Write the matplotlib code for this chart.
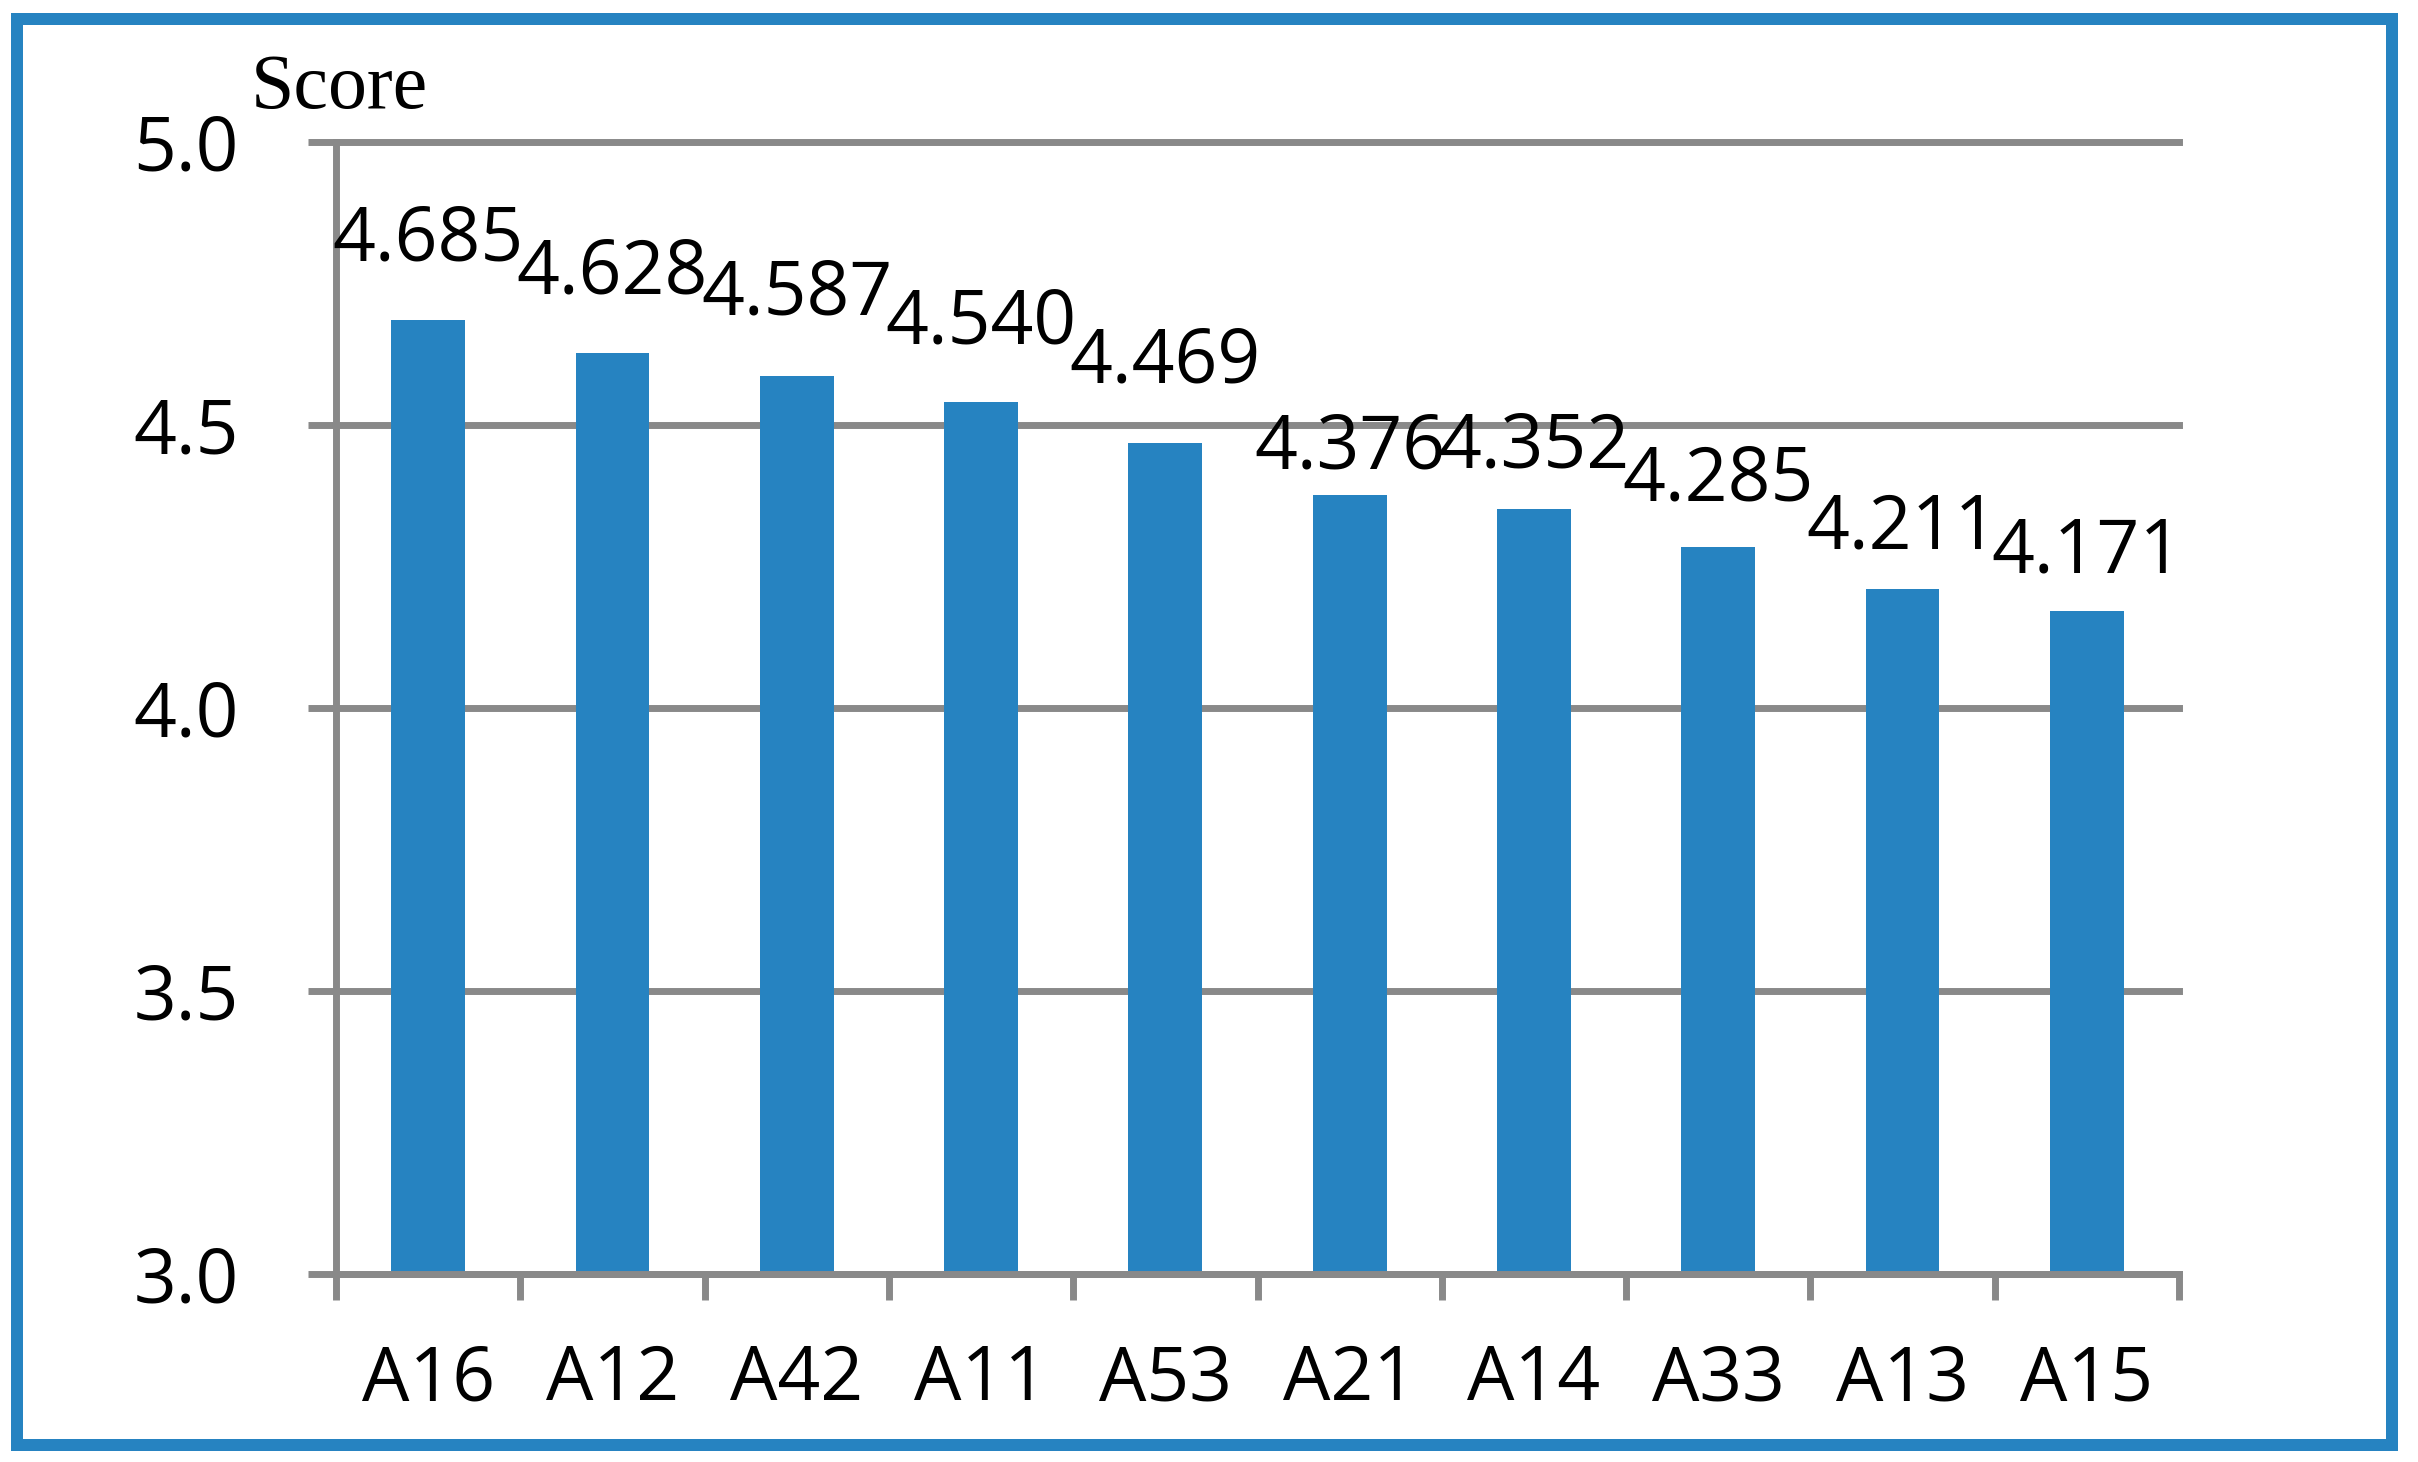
import matplotlib
matplotlib.use("Agg")
import matplotlib.pyplot as plt
from matplotlib.patches import Rectangle
import numpy as np

# data
categories = ["A16", "A12", "A42", "A11", "A53", "A21", "A14", "A33", "A13", "A15"]
scores = [4.685, 4.628, 4.587, 4.540, 4.469, 4.376, 4.352, 4.285, 4.211, 4.171]
y_ticks = [3.0, 3.5, 4.0, 4.5, 5.0]

# manual label placement (pixels above bar top), as in the original
label_offsets_px = [60, 59, 61, 59, 60, 27, 41, 46, 40, 39]

blue = "#2683C1"
gray = "#898989"
line_w = 5
plt.rcParams["font.family"] = ["Open Sans", "DejaVu Sans"]

W, H, dpi = 2418, 1462, 100
fig = plt.figure(figsize=(W / dpi, H / dpi), dpi=dpi)
ax = fig.add_axes([336 / W, 1 - 1274 / H, (2179 - 336) / W, (1274 - 142) / H])

x = np.arange(len(categories))
ax.bar(x, scores, width=0.4, color=blue, zorder=3)
ax.set_xlim(-0.5, len(categories) - 0.5)
ax.set_ylim(3.0, 5.0)

# gridlines + axes
ax.set_yticks(y_ticks)
ax.set_yticklabels([f"{v:.1f}" for v in y_ticks])
ax.yaxis.grid(True, color=gray, linewidth=line_w, zorder=0)
for gl in ax.get_ygridlines():
    gl.set_clip_on(False)
ax.set_axisbelow(True)
for s in ["top", "right"]:
    ax.spines[s].set_visible(False)
for s in ["left", "bottom"]:
    ax.spines[s].set_color(gray)
    ax.spines[s].set_linewidth(line_w)
    ax.spines[s].set_zorder(4)

ax.set_xticks(np.arange(-0.5, len(categories), 1.0))
ax.set_xticklabels([])
ax.set_xticks(x, minor=True)
ax.set_xticklabels(categories, minor=True)
ax.tick_params(axis="x", which="major", direction="out", length=18.7, width=line_w, color=gray)
ax.tick_params(axis="x", which="minor", length=0, pad=50, labelsize=54)
ax.tick_params(axis="y", direction="out", length=20, width=line_w, color=gray, pad=50, labelsize=54)

for xi, v, off in zip(x, scores, label_offsets_px):
    ax.annotate(f"{v:.3f}", (xi, v), xytext=(0, off), textcoords="offset pixels",
                ha="center", va="baseline", fontsize=54, zorder=5)

fig.text(251 / W, 1 - 108 / H, "Score", family="Liberation Serif", fontsize=56,
         ha="left", va="baseline")

# outer blue frame
lw_px = 12
fig.patches.append(Rectangle(((11 + lw_px / 2) / W, (11 + lw_px / 2) / H),
                             (2398 - 11 - lw_px) / W, (1451 - 13 - lw_px) / H,
                             transform=fig.transFigure, fill=False,
                             edgecolor=blue, linewidth=lw_px * 72 / dpi))

fig.savefig("out.png", dpi=dpi, facecolor="white")
